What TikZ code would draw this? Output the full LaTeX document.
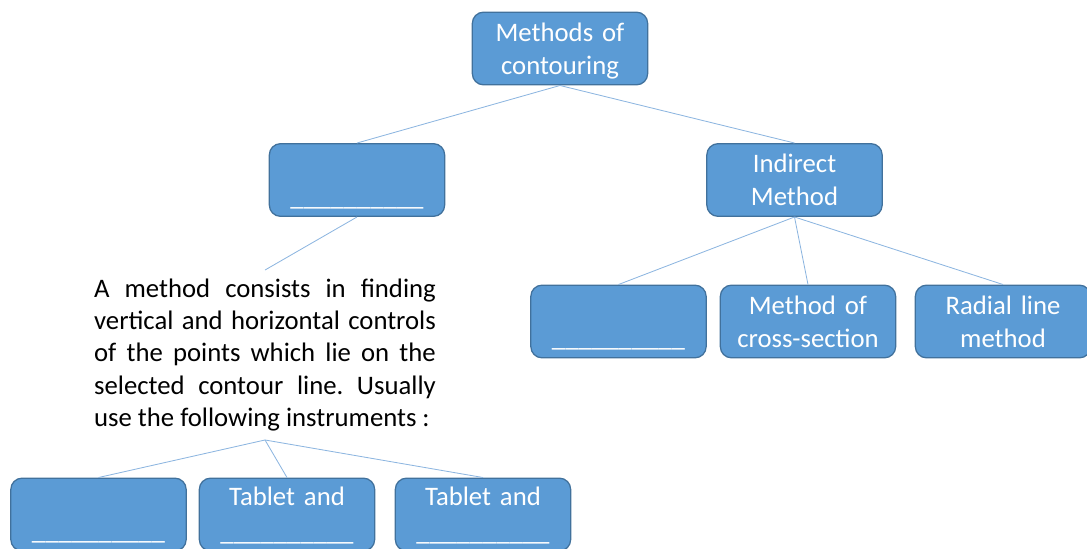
\documentclass[tikz,border=0pt]{standalone}
\usepackage{fontspec}
\setmainfont{Carlito}
\definecolor{boxblue}{HTML}{5B9BD5}
\definecolor{boxedge}{HTML}{41719C}
\definecolor{linkblue}{HTML}{8DB6E0}
\newcommand{\blank}{\raisebox{-1.5pt}[\height][\depth]{\_\_\_\_\_\_\_\_\_\_}}
\newcommand{\noline}{\vphantom{T}}

\begin{document}
\frenchspacing
\begin{tikzpicture}
  [x=0.025cm, y=-0.025cm,
   box/.style={draw=boxedge, fill=boxblue, line width=0.9pt, rounded corners=8pt,
     minimum width=124.7pt, minimum height=51.7pt, text width=124pt, align=center,
     text=white, inner sep=0pt, font=\fontsize{19}{23.3}\selectfont},
   link/.style={draw=linkblue, line width=0.6pt}]
  \useasboundingbox (0,0) rectangle (1087,548);
  \clip (0,0) rectangle (1087,548);
  \node[box] (methods) at (560,48.5) {Methods of\\contourin\smash{g}};
  \node[box] (direct) at (357,180) {\noline\\\blank};
  \node[box] (indirect) at (794.5,180) {Indirect\\Method};
  \node[box] (ind1) at (618.5,321.5) {\noline\\\blank};
  \node[box] (crosssec) at (808,321.5) {Method of\\cross-section};
  \node[box] (radial) at (1003,321.5) {Radial line\\method};
  \node[text width=243pt, align=justify, inner xsep=0pt, inner ysep=6pt,
    font=\fontsize{19}{23}\selectfont] (instr) at (265,355)
    {A method consists in finding\linebreak vertical and horizontal controls\linebreak
     of the points which lie on the\linebreak selected contour line. Usually\linebreak
     use the following instruments :};
  \node[box] (instrA) at (98.5,514.5) {\noline\\\blank};
  \node[box] (tabletA) at (287,514.5) {Tablet and\\\blank};
  \node[box] (tabletB) at (483,514.5) {Tablet and\\\blank};
  % connectors
  \draw[link] (methods.south) -- (direct.north);
  \draw[link] (methods.south) -- (indirect.north);
  \draw[link] (direct.south) -- (instr.north);
  \draw[link] (indirect.south) -- (ind1.north);
  \draw[link] (indirect.south) -- (crosssec.north);
  \draw[link] (indirect.south) -- (radial.north);
  \draw[link] (instr.south) -- (instrA.north);
  \draw[link] (instr.south) -- (tabletA.north);
  \draw[link] (instr.south) -- (tabletB.north);
\end{tikzpicture}
\end{document}
